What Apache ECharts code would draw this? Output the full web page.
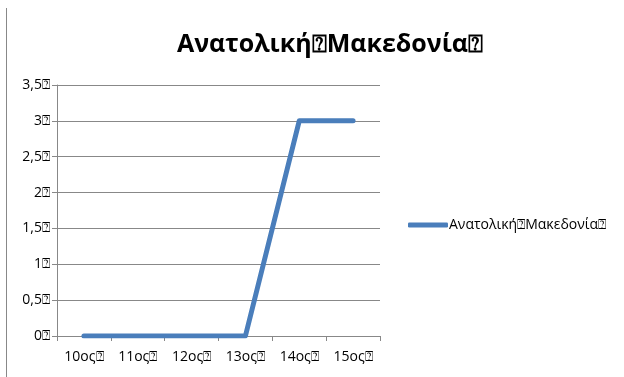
<!DOCTYPE html>
<html>
<head>
<meta charset="utf-8">
<script src="https://cdn.jsdelivr.net/npm/echarts@6/dist/echarts.min.js"></script>
<style>
  html, body { margin: 0; padding: 0; background: #fff; }
  #chart { width: 624px; height: 377px; }
</style>
</head>
<body>
<div id="chart"></div>
<script>
// chart data
var box = '\u2370';
var seriesName = 'Ανατολική' + box + 'Μακεδονία' + box;
var categories = ['10ος', '11ος', '12ος', '13ος', '14ος', '15ος'];
var values = [0, 0, 0, 0, 3, 3];
var yTicks = [0, 0.5, 1, 1.5, 2, 2.5, 3, 3.5];

var chartDom = document.getElementById('chart');
var myChart = echarts.init(chartDom);
var font = '"Open Sans", Lato, sans-serif';
var option;

option = {
  animation: false,
  textStyle: { fontFamily: font },
  title: {
    text: seriesName,
    left: 325,
    textAlign: 'center',
    top: 27,
    textStyle: { fontSize: 25, fontWeight: 'bold', color: '#000', fontFamily: font }
  },
  legend: {
    left: 403,
    top: 213,
    itemWidth: 40,
    itemHeight: 5,
    itemGap: 0,
    icon: 'roundRect',
    textStyle: { fontSize: 14, color: '#000', padding: [0, 0, 0, -4] },
    data: [seriesName]
  },
  grid: { left: 57, right: 244, top: 85, bottom: 41 },
  xAxis: {
    type: 'category',
    data: categories,
    boundaryGap: true,
    axisLine: { lineStyle: { color: '#888', width: 1 } },
    axisTick: { show: true, length: 5, lineStyle: { color: '#888' } },
    axisLabel: {
      color: '#000', fontSize: 14, margin: 14,
      formatter: function (v) { return v + box; }
    }
  },
  yAxis: {
    type: 'value',
    min: 0,
    max: yTicks[yTicks.length - 1],
    interval: 0.5,
    axisLine: { show: true, lineStyle: { color: '#888', width: 1 } },
    axisTick: { show: true, length: 5, lineStyle: { color: '#888' } },
    splitLine: { show: true, lineStyle: { color: '#888', width: 1 } },
    axisLabel: {
      color: '#000', fontSize: 14, margin: 7,
      formatter: function (v) { return String(v).replace('.', ',') + box; }
    }
  },
  graphic: [{
    type: 'line',
    shape: { x1: 6.5, y1: 8, x2: 6.5, y2: 377 },
    style: { stroke: '#888', lineWidth: 1 }
  }],
  series: [{
    name: seriesName,
    type: 'line',
    data: values,
    showSymbol: false,
    symbol: 'none',
    lineStyle: { color: '#4a7ebb', width: 5, cap: 'round', join: 'round' },
    itemStyle: { color: '#4a7ebb' }
  }]
};

option && myChart.setOption(option);
</script>
</body>
</html>
